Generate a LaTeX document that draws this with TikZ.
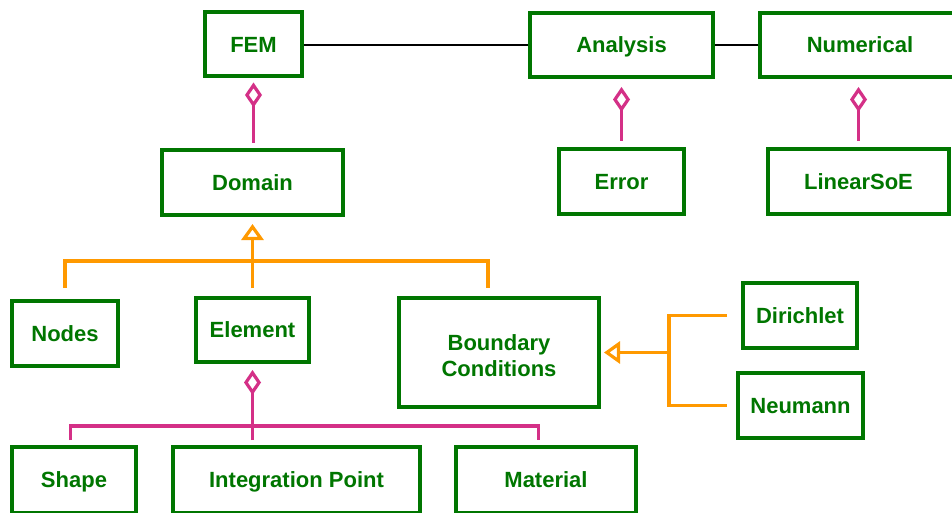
\documentclass[tikz,border=0pt]{standalone}
\usepackage{fontspec}
\setmainfont{Liberation Sans}
\usetikzlibrary{arrows.meta,shadows}

\definecolor{boxgreen}{RGB}{0,118,0}
\definecolor{aggpink}{RGB}{212,48,135}
\definecolor{genorange}{RGB}{255,153,0}

\tikzset{
  classbox/.style={draw=boxgreen, line width=4pt, fill=white, text=boxgreen,
    font=\bfseries\fontsize{22}{25.5}\selectfont, align=center, inner sep=0pt,
    text height=15.8pt, text depth=0pt,
    drop shadow={shadow xshift=1.5pt, shadow yshift=-2pt, opacity=0.10, fill=black}},
  assoc/.style={draw=black, line width=1.4pt},
  aggline/.style={draw=aggpink, line width=3.2pt},
  agg/.style={aggline, -{Diamond[open, length=25pt, width=17pt]}},
  genline/.style={draw=genorange, line width=3.2pt},
  gen/.style={genline, -{Triangle[open, length=16pt, width=22pt]}},
}

\begin{document}
\begin{tikzpicture}[x=1pt, y=-1pt]
\useasboundingbox (0,0) rectangle (952,513);

% top row
\node[classbox, minimum width=97pt,  minimum height=64pt] (FEM)       at (253.5,44.5) {FEM};
\node[classbox, minimum width=183pt, minimum height=64pt] (Analysis)  at (621.5,45)   {Analysis};
\node[classbox, minimum width=200pt, minimum height=64pt] (Numerical) at (860,45)     {Numerical};

% second row
\node[classbox, minimum width=181pt, minimum height=65pt] (Domain)    at (252.5,182.5) {Domain};
\node[classbox, minimum width=125pt, minimum height=65pt] (Error)     at (621.5,181.5) {Error};
\node[classbox, minimum width=181pt, minimum height=65pt] (LinearSoE) at (858.5,181.5) {LinearSoE};

% third row
\node[classbox, minimum width=106pt, minimum height=65pt]  (Nodes)     at (65,333.5)    {Nodes};
\node[classbox, minimum width=113pt, minimum height=64pt]  (Element)   at (252.5,330)   {Element};
\node[classbox, minimum width=200pt, minimum height=109pt, text height={}, text depth={}]
  (BC) at (499,352.5) {\rule{0pt}{22pt}Boundary\\Conditions};
\node[classbox, minimum width=114pt, minimum height=65pt]  (Dirichlet) at (800,315.5)   {Dirichlet};
\node[classbox, minimum width=125pt, minimum height=65pt]  (Neumann)   at (800.5,405.5) {Neumann};

% bottom row
\node[classbox, minimum width=124pt, minimum height=66pt] (Shape)    at (74,480)    {Shape};
\node[classbox, minimum width=247pt, minimum height=66pt] (IntPoint) at (296.5,480) {Integration Point};
\node[classbox, minimum width=180pt, minimum height=66pt] (Material) at (546,480)   {Material};

% associations
\draw[assoc] (FEM.east |- Analysis.west) -- (Analysis.west);
\draw[assoc] (Analysis.east) -- (Numerical.west);

% aggregations
\draw[agg] ([yshift=5pt]FEM.south |- Domain.north) -- ([yshift=-4pt]FEM.south);
\draw[agg] ([yshift=6pt]Analysis.south |- Error.north) -- ([yshift=-8pt]Analysis.south);
\draw[agg] ([yshift=6pt]LinearSoE.north) -- ([yshift=-8pt]LinearSoE.north |- Numerical.south);

% Domain generalization
\coordinate (dj) at (253,261);
\draw[gen] ([yshift=8pt]Element.north) -- ([yshift=-7pt]Domain.south);
\draw[genline] ([yshift=11pt]Nodes.north) |- (dj) -| ([xshift=-11pt,yshift=8pt]BC.north);

% Element aggregation
\coordinate (ej) at (253,426);
\draw[agg] ([yshift=5pt]Element.south |- IntPoint.north) -- ([yshift=-6pt]Element.south);
\draw[aggline] ([xshift=-3.5pt,yshift=5pt]Shape.north) |- (ej) -| ([xshift=-7.5pt,yshift=5pt]Material.north);

% Boundary condition generalization
\coordinate (bj) at (669,352.5);
\draw[gen] (bj) -- ([xshift=3pt]BC.east);
\draw[genline] ([xshift=-14pt]Dirichlet.west) -| (bj) |- ([xshift=-9pt]Neumann.west);
\end{tikzpicture}
\end{document}
